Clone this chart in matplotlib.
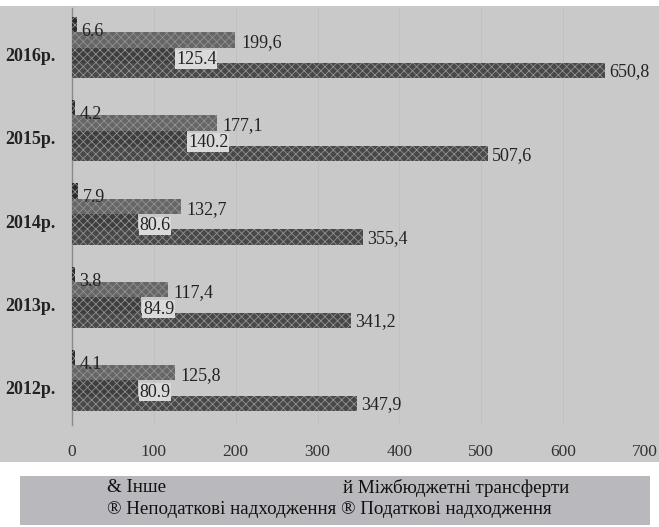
import numpy as np
import matplotlib
matplotlib.use("Agg")
import matplotlib.pyplot as plt
from matplotlib.patches import Rectangle
from matplotlib.transforms import ScaledTranslation

# --------------------------
# Data (млн грн)
# --------------------------
years = ["2012р.", "2013р.", "2014р.", "2015р.", "2016р."]
other = [4.1, 3.8, 7.9, 4.2, 6.6]
transfers = [125.8, 117.4, 132.7, 177.1, 199.6]
non_tax = [80.9, 84.9, 80.6, 140.2, 125.4]
tax = [347.9, 341.2, 355.4, 507.6, 650.8]

other_lbl = ["4.1", "3.8", "7.9", "4.2", "6.6"]
transfers_lbl = ["125,8", "117,4", "132,7", "177,1", "199,6"]
non_tax_lbl = ["80.9", "84.9", "80.6", "140.2", "125.4"]
tax_lbl = ["347,9", "341,2", "355,4", "507,6", "650,8"]

x_ticks = [0, 100, 200, 300, 400, 500, 600, 700]

plt.rcParams["font.family"] = ["Liberation Serif", "DejaVu Serif"]
plt.rcParams["hatch.linewidth"] = 0.6

fig = plt.figure(figsize=(6.59, 5.27), dpi=100)
fig.patch.set_facecolor("white")
W, H = 659, 527

# scanned page background
fig.patches.append(Rectangle((0, 1 - 462 / H), 1, (462 - 6) / H,
                             transform=fig.transFigure, facecolor="#c9c9c9",
                             edgecolor="none", zorder=-2))

ax = fig.add_axes([72 / W, 1 - 425 / H, 573 / W, 417 / H])
ax.set_facecolor("none")

pos = np.arange(len(years))
h = 0.184
series = [
    (other, other_lbl, "#2b2b2b", 1.5 * h, (3, -5), None),
    (transfers, transfers_lbl, "#666666", 0.5 * h, (4, -2), None),
    (non_tax, non_tax_lbl, "#3e3e3e", -0.5 * h, (1, -3), "#dadada"),
    (tax, tax_lbl, "#484848", -1.5 * h, (3, -1), None),
]

for vals, lbls, col, off, txt_off, box in series:
    ax.barh(pos + off, vals, height=h, color=col, edgecolor="#919191",
            linewidth=0, hatch="xxxx", zorder=3)
    for y, v, s in zip(pos + off, vals, lbls):
        kw = {}
        if box:
            kw["bbox"] = dict(facecolor=box, edgecolor="none", pad=0.5)
        ax.annotate(s, (v, y), xytext=txt_off, textcoords="offset points",
                    ha="left", va="center", fontsize=13, color="#222222",
                    zorder=5, **kw)

ax.set_xlim(0, 700)
ax.set_ylim(-0.536, 4.476)
ax.set_xticks(x_ticks)
ax.set_xticklabels([str(t) for t in x_ticks], fontsize=12.5, color="#333333")
ax.set_yticks(pos)
ax.set_yticklabels(years, fontsize=13, fontweight="bold", color="#222222")
ax.tick_params(axis="x", length=0, pad=14)
ax.tick_params(axis="y", length=0, pad=12)
shift = ScaledTranslation(0, -7 / 100, fig.dpi_scale_trans)
for lab in ax.get_yticklabels():
    lab.set_transform(lab.get_transform() + shift)

for sp in ["top", "right", "bottom"]:
    ax.spines[sp].set_visible(False)
ax.spines["left"].set_color("#8a8a8a")
ax.spines["left"].set_linewidth(1.0)
ax.grid(axis="x", color="#c0c0c0", linewidth=0.7, zorder=1)

# legend strip
fig.patches.append(Rectangle((20 / W, 1 - 525 / H), 630 / W, 49 / H,
                             transform=fig.transFigure, facecolor="#b9b8bd",
                             edgecolor="none", zorder=-2))
leg_font = dict(fontsize=13.7, color="#111111", va="center", ha="left")
fig.text(107 / W, 1 - 488 / H, "& Інше", **leg_font)
fig.text(343 / W, 1 - 488 / H, "й Міжбюджетні трансферти", **leg_font)
fig.text(107 / W, 1 - 510 / H,
         "® Неподаткові надходження ® Податкові надходження", **leg_font)

fig.savefig("out.png", dpi=100)
